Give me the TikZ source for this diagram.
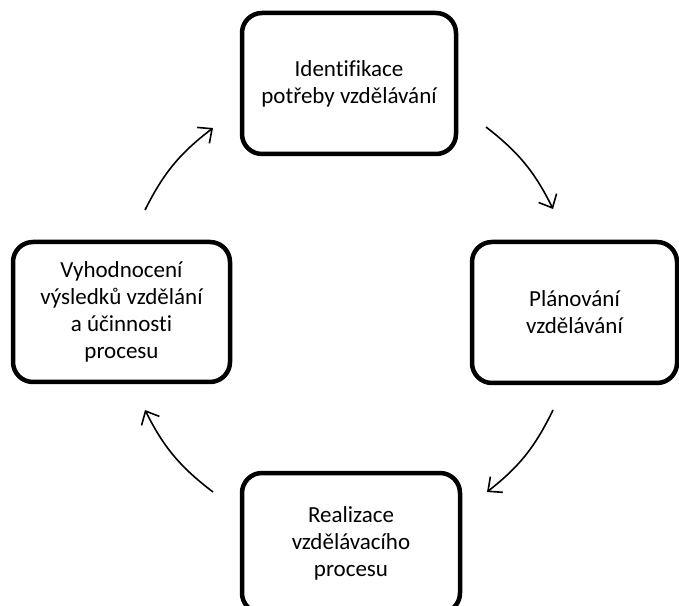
\documentclass[tikz,border=0pt]{standalone}
\usepackage{fontspec}
\setmainfont[Ligatures=NoCommon]{Carlito}
\usetikzlibrary{arrows.meta}
\begin{document}
\begin{tikzpicture}[x=1pt,y=1pt,
  stepbox/.style={draw=black, line width=4.5pt, rounded corners=20pt, fill=white,
    align=center, font=\fontsize{23}{27}\selectfont, inner sep=0pt},
  cyc/.style={line width=1.6pt, -{Straight Barb[length=11pt,width=20pt,line width=1.6pt]}, bend left=13}]
\useasboundingbox (0,0) rectangle (679,605);
\clip (0,0) rectangle (679,605);
\node[stepbox, minimum width=214pt, minimum height=141pt] (ident) at (349,521.5) {Identifikace\\potřeby vzdělávání};
\node[stepbox, minimum width=205pt, minimum height=141pt] (plan) at (574.5,292.5) {Plánování\\vzdělávání};
\node[stepbox, minimum width=218pt, minimum height=140pt] (real) at (351,62) {Realizace\\vzdělávacího\\procesu};
\node[stepbox, minimum width=217pt, minimum height=140pt] (eval) at (121.5,293) {Vyhodnocení\\výsledků vzdělání\\a účinnosti\\procesu};
\coordinate (a1s) at (486,478); \coordinate (a1e) at (553,396);
\coordinate (a2s) at (553,195); \coordinate (a2e) at (487,113);
\coordinate (a3s) at (213,113); \coordinate (a3e) at (145,195);
\coordinate (a4s) at (145,395); \coordinate (a4e) at (213,477);
\draw[cyc] (a1s) to (a1e);
\draw[cyc] (a2s) to (a2e);
\draw[cyc] (a3s) to (a3e);
\draw[cyc] (a4s) to (a4e);
\end{tikzpicture}
\end{document}
